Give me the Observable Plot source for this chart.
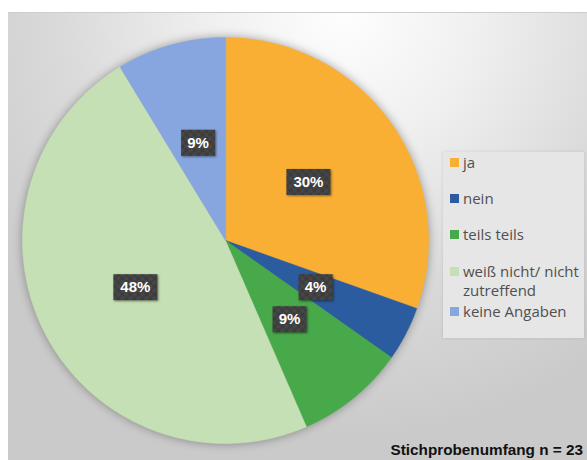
<!DOCTYPE html>
<html><head><meta charset="utf-8">
<script src="https://cdn.jsdelivr.net/npm/d3@7"></script>
<script src="https://cdn.jsdelivr.net/npm/@observablehq/plot@0.6"></script>
<style>
body{margin:0;background:#fff;}
#wrap{position:relative;width:587px;height:460px;overflow:hidden;}
#panel{position:absolute;left:8px;top:12px;right:0;bottom:0;border-top:1px solid #cdcdcd;
  background:radial-gradient(ellipse 75% 95% at 58% 0%, #fefefe 0%, #f0f0f0 30%, #dadada 65%, #cacaca 100%);}
#chart{position:absolute;left:0;top:0;}
#legend{position:absolute;left:443px;top:152px;width:141px;height:186px;background:#e6e6e6;
  box-shadow:0 0 3px rgba(0,0,0,0.12);box-sizing:border-box;padding:0 0 0 7px;
  font-family:"Open Sans",sans-serif;font-size:15px;color:#505050;}
.item{position:relative;line-height:19px;padding-left:13px;width:124px;}
.sw{position:absolute;left:0;top:5px;width:9px;height:9px;}
#caption{position:absolute;right:4px;top:441px;font-family:"Liberation Sans",Arial,sans-serif;
  font-weight:bold;font-size:15.3px;color:#111;white-space:nowrap;}
</style></head>
<body><div id="wrap"><div id="panel"></div><div id="chart"></div><div id="legend"></div><div id="caption"></div></div>
<script>
const categories = ["ja", "nein", "teils teils", "weiß nicht/ nicht zutreffend", "keine Angaben"];
const counts = [7, 1, 2, 11, 2];
const colors = ["#F8AF33", "#2B5C9F", "#48A94A", "#C6E0B5", "#87A5DF"];
const captionText = "Stichprobenumfang n = 23";

const total = d3.sum(counts);
const data = categories.map((c, i) => ({category: c, count: counts[i]}));
const arcs = d3.pie().sort(null).value(d => d.count)(data);

// slice outlines from the pie angles (unit circle, angle clockwise from top)
const pts = [];
for (const a of arcs) {
  const n = Math.max(2, Math.ceil((a.endAngle - a.startAngle) / (Math.PI / 360)));
  pts.push({category: a.data.category, x: 0, y: 0});
  for (let k = 0; k <= n; k++) {
    const t = a.startAngle + (a.endAngle - a.startAngle) * k / n;
    pts.push({category: a.data.category, x: Math.sin(t), y: Math.cos(t)});
  }
}
const labels = arcs.map(a => {
  const m = (a.startAngle + a.endAngle) / 2;
  return {x: 0.5 * Math.sin(m), y: 0.5 * Math.cos(m), text: Math.round(a.data.count / total * 100) + "%"};
});

const svg = Plot.plot({
  width: 587, height: 460,
  marginLeft: 22, marginRight: 159, marginTop: 37, marginBottom: 17,
  x: {domain: [-1, 1], axis: null},
  y: {domain: [-1, 1], axis: null},
  color: {domain: categories, range: colors},
  style: {background: "transparent", overflow: "visible"},
  marks: [
    Plot.line(pts, {x: "x", y: "y", z: "category", fill: "category", stroke: "category", strokeWidth: 0.5, curve: "linear-closed"}),
    Plot.text(labels, {x: "x", y: "y", text: "text", fill: "white", fontWeight: "bold", fontSize: 15,
      fontFamily: "Liberation Sans, Arial, sans-serif",
      render(index, scales, values, dimensions, context, next) {
        const g = next(index, scales, values, dimensions, context);
        const ns = "http://www.w3.org/2000/svg";
        const first = g.firstChild;
        for (const i of index) {
          const w = 10 * String(values.text[i]).length + 14, h = 26;
          const r = document.createElementNS(ns, "rect");
          r.setAttribute("x", values.x[i] - w / 2);
          r.setAttribute("y", values.y[i] - h / 2);
          r.setAttribute("width", w);
          r.setAttribute("height", h);
          r.setAttribute("fill", "url(#chk)");
          r.setAttribute("style", "filter: drop-shadow(1.5px 1.5px 1.2px rgba(0,0,0,0.45))");
          g.insertBefore(r, first);
        }
        return g;
      }})
  ]
});
const defs = d3.select(svg).insert("defs", ":first-child");
const pat = defs.append("pattern").attr("id", "chk").attr("width", 8).attr("height", 8).attr("patternUnits", "userSpaceOnUse");
pat.append("rect").attr("width", 8).attr("height", 8).attr("fill", "#3c3c3c");
pat.append("rect").attr("width", 4).attr("height", 4).attr("fill", "#464646");
pat.append("rect").attr("x", 4).attr("y", 4).attr("width", 4).attr("height", 4).attr("fill", "#464646");
d3.select(svg).select('g[aria-label="line"]').style("filter", "drop-shadow(0 0 5px rgba(0,0,0,0.35))");
document.getElementById("chart").appendChild(svg);

const gaps = [17, 17, 18, 2, 0];
const legend = d3.select("#legend").style("padding-top", "1px");
categories.forEach((c, i) => {
  const it = legend.append("div").attr("class", "item").style("margin-bottom", gaps[i] + "px");
  it.append("span").attr("class", "sw").style("background", colors[i]);
  it.append("span").text(c);
});
document.getElementById("caption").textContent = captionText;
</script>
</body></html>
